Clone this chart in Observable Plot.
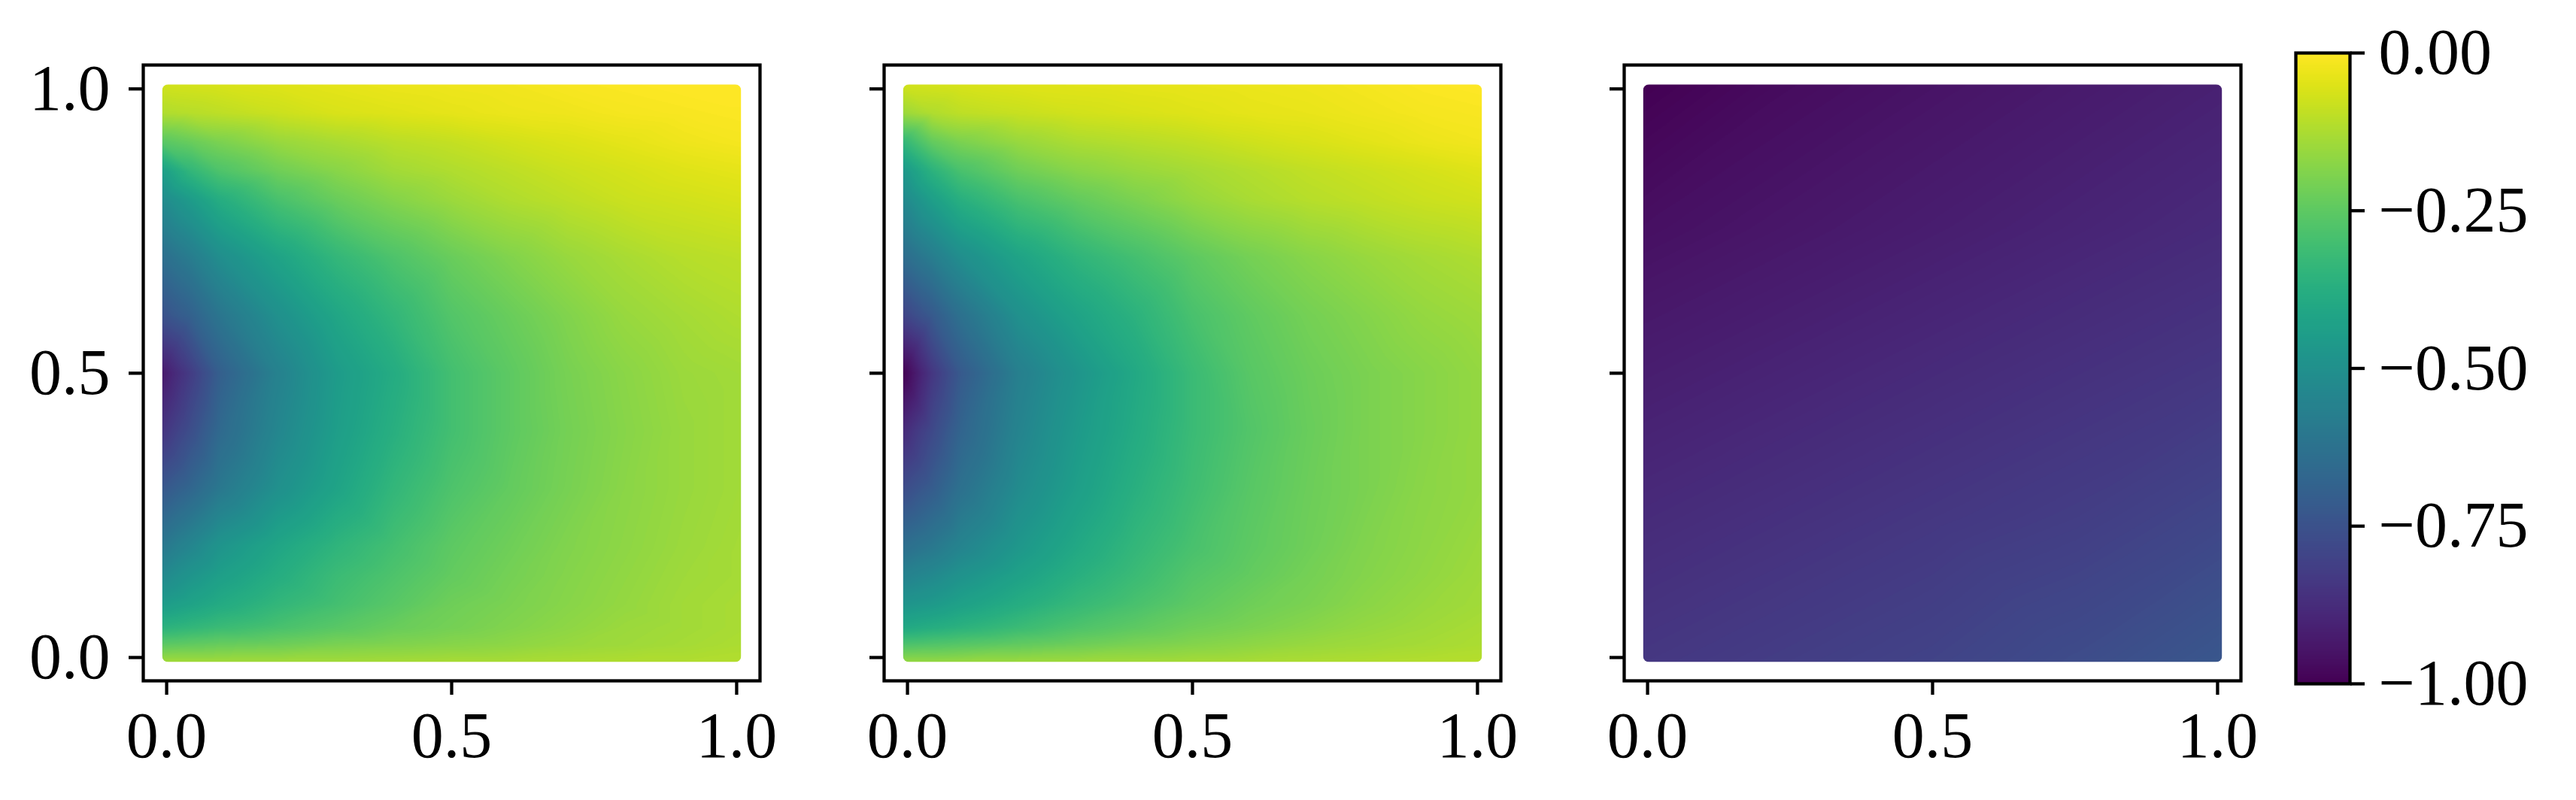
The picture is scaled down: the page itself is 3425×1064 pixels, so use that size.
<!DOCTYPE html>
<html><head><meta charset="utf-8">
<script src="https://cdn.jsdelivr.net/npm/d3@7"></script>
<script src="https://cdn.jsdelivr.net/npm/@observablehq/plot@0.6"></script>
<style>
html,body{margin:0;padding:0;background:#fff;}
#root{position:relative;width:3425px;height:1064px;overflow:hidden;background:#fff;}
#root svg{position:absolute;top:0;}
</style></head><body><div id="root"></div>
<script>
// grid positions (panels 1 and 2)
const xGrid = [0, 0.05, 0.1, 0.2, 0.3, 0.4, 0.5, 0.6, 0.7, 0.8, 0.9, 1.0];
const yGrid = [1.0, 0.95, 0.9, 0.85, 0.8, 0.7, 0.6, 0.5, 0.4, 0.3, 0.2, 0.15, 0.1, 0.06, 0.03, 0];

// panel 1 values (rows follow yGrid, columns follow xGrid)
const panel1 = [
  [-0.07, -0.065, -0.06, -0.05, -0.04, -0.03, -0.025, -0.02, -0.01, -0.005, 0, 0],
  [-0.12, -0.11, -0.10, -0.08, -0.06, -0.05, -0.04, -0.03, -0.025, -0.015, -0.01, -0.005],
  [-0.26, -0.23, -0.20, -0.155, -0.13, -0.105, -0.09, -0.07, -0.055, -0.04, -0.025, -0.015],
  [-0.44, -0.34, -0.28, -0.22, -0.18, -0.14, -0.12, -0.10, -0.08, -0.065, -0.05, -0.04],
  [-0.52, -0.45, -0.38, -0.29, -0.23, -0.185, -0.15, -0.12, -0.10, -0.08, -0.07, -0.06],
  [-0.64, -0.58, -0.51, -0.42, -0.34, -0.28, -0.23, -0.19, -0.155, -0.13, -0.11, -0.10],
  [-0.75, -0.69, -0.61, -0.50, -0.41, -0.34, -0.27, -0.23, -0.19, -0.155, -0.135, -0.12],
  [-0.93, -0.82, -0.70, -0.56, -0.455, -0.385, -0.30, -0.25, -0.205, -0.175, -0.15, -0.14],
  [-0.85, -0.76, -0.66, -0.54, -0.445, -0.37, -0.30, -0.25, -0.21, -0.18, -0.155, -0.14],
  [-0.73, -0.67, -0.60, -0.50, -0.42, -0.34, -0.28, -0.24, -0.205, -0.175, -0.155, -0.14],
  [-0.60, -0.54, -0.48, -0.41, -0.35, -0.30, -0.25, -0.22, -0.19, -0.17, -0.15, -0.135],
  [-0.53, -0.48, -0.44, -0.38, -0.32, -0.28, -0.24, -0.21, -0.185, -0.165, -0.145, -0.135],
  [-0.45, -0.42, -0.39, -0.34, -0.30, -0.26, -0.22, -0.20, -0.18, -0.16, -0.14, -0.13],
  [-0.36, -0.34, -0.32, -0.29, -0.26, -0.23, -0.21, -0.19, -0.17, -0.15, -0.14, -0.13],
  [-0.25, -0.24, -0.23, -0.22, -0.20, -0.19, -0.18, -0.17, -0.155, -0.145, -0.135, -0.125],
  [-0.14, -0.14, -0.14, -0.14, -0.14, -0.135, -0.13, -0.13, -0.125, -0.12, -0.12, -0.115]
];

// panel 2 values
const panel2 = [
  [-0.07, -0.065, -0.06, -0.05, -0.045, -0.04, -0.035, -0.03, -0.025, -0.015, -0.005, 0],
  [-0.15, -0.12, -0.10, -0.085, -0.07, -0.06, -0.05, -0.04, -0.035, -0.025, -0.015, -0.01],
  [-0.34, -0.24, -0.20, -0.155, -0.125, -0.11, -0.095, -0.075, -0.06, -0.045, -0.03, -0.02],
  [-0.47, -0.36, -0.29, -0.22, -0.18, -0.155, -0.135, -0.115, -0.095, -0.08, -0.065, -0.05],
  [-0.53, -0.44, -0.37, -0.29, -0.24, -0.20, -0.16, -0.13, -0.11, -0.095, -0.08, -0.07],
  [-0.65, -0.58, -0.51, -0.42, -0.35, -0.30, -0.25, -0.21, -0.18, -0.155, -0.135, -0.12],
  [-0.80, -0.72, -0.63, -0.50, -0.42, -0.36, -0.29, -0.245, -0.21, -0.185, -0.16, -0.145],
  [-1.00, -0.84, -0.72, -0.57, -0.48, -0.40, -0.32, -0.26, -0.225, -0.20, -0.18, -0.16],
  [-0.88, -0.78, -0.68, -0.55, -0.46, -0.39, -0.32, -0.27, -0.23, -0.20, -0.18, -0.16],
  [-0.77, -0.71, -0.63, -0.52, -0.44, -0.37, -0.31, -0.26, -0.225, -0.20, -0.175, -0.16],
  [-0.64, -0.60, -0.55, -0.47, -0.40, -0.34, -0.29, -0.25, -0.22, -0.19, -0.17, -0.15],
  [-0.56, -0.53, -0.49, -0.43, -0.37, -0.32, -0.27, -0.24, -0.21, -0.185, -0.165, -0.145],
  [-0.48, -0.46, -0.43, -0.38, -0.33, -0.29, -0.25, -0.22, -0.20, -0.175, -0.155, -0.14],
  [-0.40, -0.38, -0.36, -0.32, -0.28, -0.25, -0.22, -0.20, -0.18, -0.16, -0.145, -0.13],
  [-0.28, -0.27, -0.26, -0.24, -0.22, -0.20, -0.185, -0.17, -0.155, -0.145, -0.135, -0.125],
  [-0.16, -0.16, -0.155, -0.15, -0.145, -0.14, -0.135, -0.13, -0.125, -0.12, -0.115, -0.11]
];

// panel 3 (coarser grid)
const xGrid3 = [0, 0.25, 0.5, 0.75, 1];
const yGrid3 = [1, 0.75, 0.5, 0.25, 0];
const panel3 = [
  [-1.00, -0.97, -0.95, -0.93, -0.91],
  [-0.96, -0.94, -0.92, -0.90, -0.88],
  [-0.92, -0.90, -0.88, -0.86, -0.84],
  [-0.88, -0.86, -0.84, -0.82, -0.79],
  [-0.84, -0.82, -0.80, -0.77, -0.73]
];

const axisTicks = [0, 0.5, 1];
const colorbarTicks = [0, -0.25, -0.5, -0.75, -1];

const root = document.getElementById("root");
const FONT = "'Liberation Serif', 'Times New Roman', serif";
const colorOpts = {type: "linear", scheme: "viridis", domain: [-1, 0]};
let clipId = 0;

function toPoints(xs, ys, rows) {
  return rows.flatMap((row, j) => row.map((v, i) => ({x: xs[i], y: ys[j], v})));
}

// the scatter markers overhang the data box by their radius: widen the raster image a little
// and round its corners like the marker edges
function markerOverhang(svg, pad, radius) {
  const img = svg.querySelector("image");
  if (!img) return;
  const x = +img.getAttribute("x") || 0, y = +img.getAttribute("y") || 0;
  const w = +img.getAttribute("width"), h = +img.getAttribute("height");
  const nx = x - pad, ny = y - pad, nw = w + 2 * pad, nh = h + 2 * pad;
  img.setAttribute("x", nx); img.setAttribute("y", ny);
  img.setAttribute("width", nw); img.setAttribute("height", nh);
  img.setAttribute("preserveAspectRatio", "none");
  const ns = "http://www.w3.org/2000/svg";
  const defs = document.createElementNS(ns, "defs");
  const cp = document.createElementNS(ns, "clipPath");
  const id = "markerclip" + (clipId++);
  cp.setAttribute("id", id);
  const r = document.createElementNS(ns, "rect");
  r.setAttribute("x", nx); r.setAttribute("y", ny);
  r.setAttribute("width", nw); r.setAttribute("height", nh);
  r.setAttribute("rx", radius); r.setAttribute("ry", radius);
  cp.appendChild(r); defs.appendChild(cp); svg.insertBefore(defs, svg.firstChild);
  img.setAttribute("clip-path", `url(#${id})`);
}

function panel(points, frameLeft, showYLabels) {
  const mL = 200, mR = 40, W = 820;
  const svg = Plot.plot({
    width: mL + W + mR, height: 1064,
    marginLeft: mL, marginRight: mR, marginTop: 86, marginBottom: 159,
    x: {domain: [-0.041, 1.041], label: null},
    y: {domain: [-0.041, 1.042], label: null},
    color: colorOpts,
    style: {fontFamily: FONT, fontSize: "86px", background: "transparent", overflow: "visible", maxWidth: "none", color: "black"},
    marks: [
      Plot.raster(points, {x: "x", y: "y", fill: "v", interpolate: "barycentric",
        x1: 0, x2: 1, y1: 0, y2: 1, pixelSize: 1}),
      Plot.frame({stroke: "black", strokeWidth: 4.3}),
      Plot.axisX({ticks: axisTicks, tickSize: 19, tickPadding: 21, strokeWidth: 4.3,
        tickFormat: d3.format(".1f"), label: null}),
      Plot.axisY({ticks: axisTicks, tickSize: 19, tickPadding: 25, strokeWidth: 4.3,
        tickFormat: showYLabels ? d3.format(".1f") : () => "", label: null})
    ]
  });
  markerOverhang(svg, 6, 8);
  svg.style.left = (frameLeft - mL) + "px";
  root.appendChild(svg);
}

panel(toPoints(xGrid, yGrid, panel1), 190, true);
panel(toPoints(xGrid, yGrid, panel2), 1174.5, false);
panel(toPoints(xGrid3, yGrid3, panel3), 2159, false);

// colorbar
const cbLeft = 3052, cbML = 62;
const cb = Plot.plot({
  width: cbML + 72 + 300, height: 1064,
  marginLeft: cbML, marginRight: 300, marginTop: 70, marginBottom: 155,
  x: {domain: [0, 1], axis: null},
  y: {domain: [-1, 0], label: null},
  color: colorOpts,
  style: {fontFamily: FONT, fontSize: "86px", background: "transparent", overflow: "visible", maxWidth: "none", color: "black"},
  marks: [
    Plot.raster({fill: (x, y) => y, x1: 0, x2: 1, y1: -1, y2: 0, pixelSize: 1}),
    Plot.frame({stroke: "black", strokeWidth: 4.3}),
    Plot.axisY({anchor: "right", ticks: colorbarTicks, tickSize: 19, tickPadding: 19, strokeWidth: 4.3,
      tickFormat: d3.format(".2f"), label: null})
  ]
});
cb.style.left = (cbLeft - cbML) + "px";
root.appendChild(cb);
</script></body></html>
